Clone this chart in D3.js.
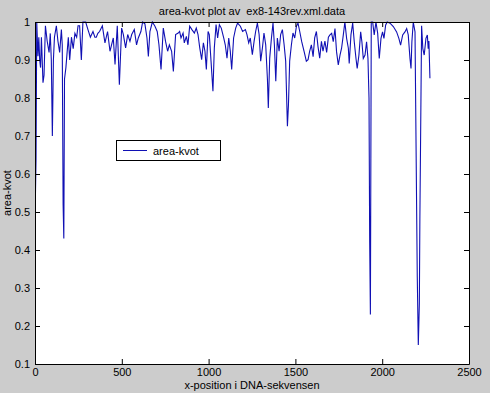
<!DOCTYPE html>
<html><head><meta charset="utf-8">
<script src="https://cdn.jsdelivr.net/npm/d3@7"></script>
<style>
html,body{margin:0;padding:0;background:#cccccc;}
svg{display:block;}
text{font-family:"Liberation Sans",Arial,Helvetica,sans-serif;fill:#000;white-space:pre;}
</style></head>
<body>
<script>
const titleText = "area-kvot plot av  ex8-143rev.xml.data";
const xLabel = "x-position i DNA-sekvensen";
const yLabel = "area-kvot";
const legendLabel = "area-kvot";
const xTicks = [0, 500, 1000, 1500, 2000, 2500];
const yTicks = [0.1, 0.2, 0.3, 0.4, 0.5, 0.6, 0.7, 0.8, 0.9, 1];

const positions = [
 2,6,10,17,22,27,32,37,46,52,60,70,81,88,94,100,106,112,123,132,142,152,157,162,166,170,178,185,192,200,210,220,230,240,248,257,267,276,292,305,319,334,345,353,362,372,388,
 403,418,432,441,451,461,474,486,499,509,522,534,547,557,572,585,595,610,620,633,645,653,662,676,691,704,714,726,739,752,764,774,787,797,810,825,
 833,841,853,860,872,881,891,904,918,929,939,949,960,970,979,987,997,1004,1014,1025,1033,1043,1052,1062,1073,1087,1096,1106,1116,1125,1133,1144,1156,1167,1183,1196,1212,1221,1231,1240,
 1252,1262,1271,1281,1291,1300,1310,1319,1329,1339,1344,1352,1362,1371,1379,1387,1396,1406,1415,1425,1435,1444,1454,1460,1467,1477,1486,1496,1506,1515,1525,1536,1550,1563,1573,1582,1592,1602,1611,1621,1630,1640,1650,1659,
 1670,1680,1690,
 1699,1709,1718,1728,1737,1747,1757,1766,1776,1785,1795,1805,1810,1820,1830,1839,1849,1856,1866,1876,1883,1891,1901,1910,1918,1924,1928,1932,1937,1945,1954,1964,1974,1983,1993,2002,2010,2020,2029,2045,2064,2083,2096,2106,2118,2131,2141,2150,2160,2166,2171,2179,2189,2202,2208,2214,2217,2227,2234,2242,2252,2260,2265,2269,2275
];
const areaKvot = [
 0.53,0.64,1.00,0.91,0.96,0.90,0.88,0.96,0.84,0.86,0.99,0.95,0.92,0.97,0.90,0.70,0.90,0.96,0.99,0.95,0.92,0.98,0.94,0.52,0.43,0.85,0.88,0.92,0.96,0.90,0.96,0.93,0.97,0.96,0.99,0.99,0.90,1.00,1.00,0.98,0.96,0.975,0.96,0.96,0.97,0.975,0.99,
 0.945,0.975,0.923,0.94,0.958,0.888,0.99,0.835,0.984,0.967,0.932,0.967,0.949,0.967,0.98,0.94,0.958,0.975,1.0,0.995,0.958,0.909,0.975,1.0,0.989,0.975,0.94,0.875,0.984,0.949,0.923,0.94,0.923,0.870,0.967,0.971,
 0.975,0.958,0.971,0.945,0.962,0.94,0.989,0.98,0.971,0.984,0.967,0.932,0.901,0.945,0.923,0.875,0.975,0.967,0.897,0.818,0.932,0.993,0.958,0.993,0.984,0.958,0.94,0.905,0.958,0.923,0.875,0.958,0.984,0.997,0.989,0.975,0.98,0.967,0.945,0.958,
 0.914,0.949,0.975,0.997,0.967,0.897,0.932,0.971,0.94,0.848,0.774,0.905,0.958,0.997,0.94,0.844,0.958,0.923,0.967,0.98,0.94,0.897,0.726,0.782,0.897,0.94,0.971,0.958,0.989,0.997,0.975,0.949,0.923,0.897,0.901,0.923,0.94,0.909,0.958,0.975,0.936,0.905,0.949,0.923,
 0.95,0.92,0.96,
 0.966,0.970,0.948,0.983,0.922,0.887,0.913,0.931,0.966,1.0,0.957,0.931,0.891,0.966,0.997,0.948,0.904,0.878,0.913,0.974,0.948,0.904,0.913,0.948,0.904,0.80,0.42,0.23,1.0,1.0,0.966,1.0,0.970,0.904,0.957,0.974,0.957,0.992,1.0,0.997,0.988,0.974,0.957,0.939,0.966,0.974,0.983,0.966,0.904,0.878,0.948,1.0,0.974,0.33,0.15,0.26,0.48,0.99,0.93,0.913,0.957,0.966,0.93,0.95,0.852
];

const W = 490, H = 393;
const L = 35, R = 469, T = 22, B = 364;
const svg = d3.select("body").append("svg").attr("width", W).attr("height", H);

const x = d3.scaleLinear().domain([0, 2500]).range([L, R]);
const y = d3.scaleLinear().domain([0.1, 1]).range([B, T]);

svg.append("rect").attr("x", L).attr("y", T).attr("width", R - L).attr("height", B - T).attr("fill", "#fff");

svg.append("defs").append("clipPath").attr("id", "clip")
  .append("rect").attr("x", L).attr("y", T - 1).attr("width", R - L).attr("height", B - T + 2);

const n = Math.min(positions.length, areaKvot.length);
const data = d3.range(n).map(i => [positions[i], areaKvot[i]]);
const line = d3.line().x(d => x(d[0])).y(d => y(d[1]));
svg.append("path").datum(data).attr("clip-path", "url(#clip)")
  .attr("d", line).attr("fill", "none").attr("stroke", "#1010b4").attr("stroke-width", 1.1);

function styleAxis(g) {
  g.selectAll("path.domain").attr("stroke", "#000");
  g.selectAll("line").attr("stroke", "#000");
  g.selectAll("text").attr("font-size", 11).attr("font-family", "Liberation Sans, Arial, sans-serif").attr("fill", "#000");
}
const yFmt = d => d === 1 ? "1" : d3.format(".1f")(d);

svg.append("g").attr("transform", `translate(${L},0)`)
  .call(d3.axisLeft(y).tickValues(yTicks).tickFormat(yFmt).tickSizeInner(-5).tickSizeOuter(0).tickPadding(5))
  .call(styleAxis);
svg.append("g").attr("transform", `translate(${R},0)`)
  .call(d3.axisRight(y).tickValues(yTicks).tickFormat("").tickSizeInner(-5).tickSizeOuter(0))
  .call(styleAxis);
svg.append("g").attr("transform", `translate(0,${B})`)
  .call(d3.axisBottom(x).tickValues(xTicks).tickFormat(d3.format("d")).tickSizeInner(-5).tickSizeOuter(0).tickPadding(4))
  .call(styleAxis);
svg.append("g").attr("transform", `translate(0,${T})`)
  .call(d3.axisTop(x).tickValues(xTicks).tickFormat("").tickSizeInner(-5).tickSizeOuter(0))
  .call(styleAxis);

svg.append("text").attr("x", (L + R) / 2).attr("y", 15).attr("text-anchor", "middle").attr("font-size", 11).text(titleText);
svg.append("text").attr("x", (L + R) / 2).attr("y", 389).attr("text-anchor", "middle").attr("font-size", 11).text(xLabel);
svg.append("text").attr("transform", `translate(11,${(T + B) / 2}) rotate(-90)`).attr("text-anchor", "middle").attr("font-size", 11).text(yLabel);

const lg = svg.append("g");
lg.append("rect").attr("x", 116.5).attr("y", 140.5).attr("width", 104).attr("height", 20).attr("fill", "#fff").attr("stroke", "#000");
lg.append("line").attr("x1", 123).attr("x2", 147).attr("y1", 150.5).attr("y2", 150.5).attr("stroke", "#1010b4");
lg.append("text").attr("x", 153).attr("y", 155).attr("font-size", 11).text(legendLabel);
</script>
</body></html>
